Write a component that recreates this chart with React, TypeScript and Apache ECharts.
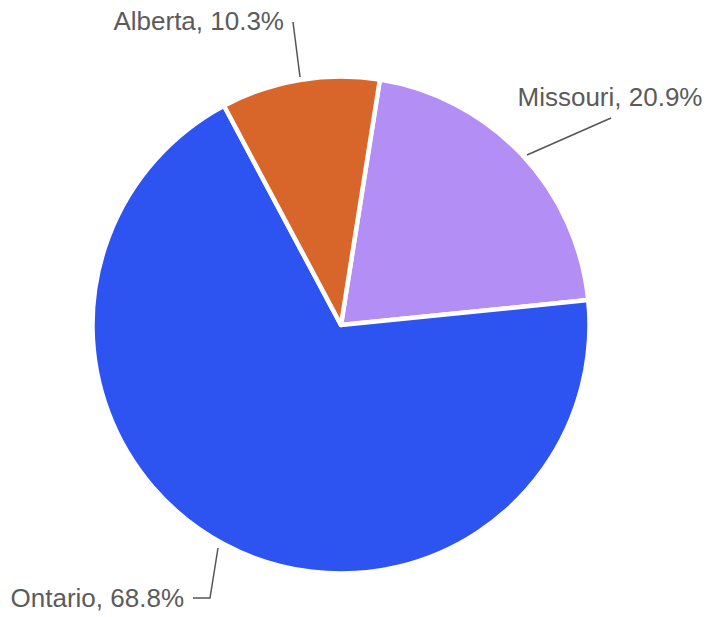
import React, { useEffect, useRef } from "react";
import * as echarts from "echarts";

const categories = ["Missouri", "Ontario", "Alberta"];
const values = [20.9, 68.8, 10.3];
const colors = ["#b38ef4", "#2d53f0", "#d8652a"];

// label placement (outside labels, Google-charts style)
const labelPos = [
  { x: 610, y: 97, align: "center", line: [[527, 155], [611, 118]] },
  { x: 284, y: 21, align: "right", line: [[300, 77], [293, 22]] },
];
const ontarioPos = { x: 184, y: 598, align: "right", line: [[218, 548], [210, 598], [193, 598]] };

export default function App() {
  const ref = useRef<HTMLDivElement>(null);
  useEffect(() => {
    document.body.style.margin = "0";
    const chart = echarts.init(ref.current!, null, { renderer: "svg" });
    const layouts = [labelPos[0], ontarioPos, labelPos[1]];
    chart.setOption({
      animation: false,
      backgroundColor: "#ffffff",
      series: [
        {
          type: "pie",
          center: [341, 325],
          radius: 248.5,
          startAngle: 81,
          clockwise: true,
          avoidLabelOverlap: false,
          data: categories.map((c, i) => ({
            name: c,
            value: values[i],
            itemStyle: { color: colors[i] },
          })),
          itemStyle: { borderColor: "#ffffff", borderWidth: 4.5 },
          label: {
            formatter: (p: any) => `${p.name}, ${p.value}%`,
            fontFamily: "Liberation Sans, Arial, sans-serif",
            fontSize: 26,
            color: "#5b5b5b",
          },
          labelLine: {
            show: true,
            length: 50,
            length2: 15,
            lineStyle: { color: "#555555", width: 1.5 },
          },
          labelLayout: (params: any) => {
            const p = layouts[params.dataIndex];
            return {
              x: p.x,
              y: p.y,
              align: p.align,
              verticalAlign: "middle",
              labelLinePoints: p.line,
            };
          },
        },
      ],
    });
    return () => chart.dispose();
  }, []);
  return <div ref={ref} style={{ position: "absolute", left: 0, top: 0, width: 708, height: 617 }} />;
}
